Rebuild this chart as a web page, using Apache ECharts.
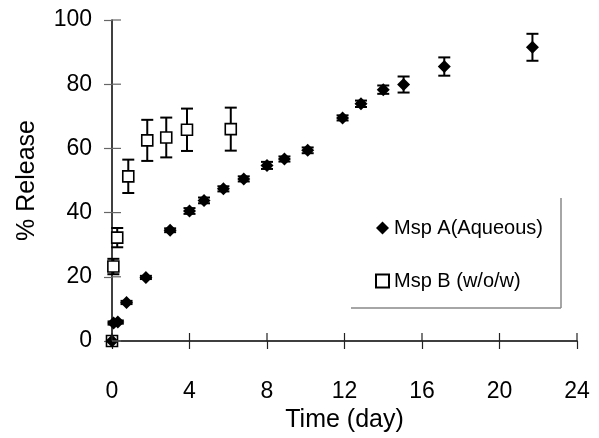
<!DOCTYPE html>
<html>
<head>
<meta charset="utf-8">
<script src="https://cdn.jsdelivr.net/npm/echarts@6/dist/echarts.min.js"></script>
<style>html,body{margin:0;padding:0;background:#fff;}#c{width:599px;height:438px;}</style>
</head>
<body>
<div id="c"></div>
<script>
// ---- data ----
const xTicks = [0, 4, 8, 12, 16, 20, 24];
const yTicks = [0, 20, 40, 60, 80, 100];
const seriesNames = ['Msp A(Aqueous)', 'Msp B (w/o/w)'];
const timeA = [0, 0.08, 0.3, 0.75, 1.75, 3, 4, 4.75, 5.75, 6.8, 8, 8.9, 10.1, 11.9, 12.85, 14, 15.05, 17.15, 21.7];
const releaseA = [0, 5.6, 5.9, 12, 19.8, 34.5, 40.5, 43.8, 47.4, 50.5, 54.7, 56.7, 59.4, 69.5, 73.9, 78.3, 79.9, 85.5, 91.5];
const errA = [0, 0.5, 0.5, 0.5, 0.5, 0.6, 0.9, 0.9, 0.8, 0.8, 1.1, 0.8, 0.9, 0.8, 1.0, 1.3, 2.5, 2.85, 4.2];
const timeB = [0, 0.07, 0.27, 0.84, 1.82, 2.8, 3.87, 6.13];
const releaseB = [0, 23.2, 32.2, 51.3, 62.5, 63.4, 65.8, 66];
const errB = [0, 2.4, 3, 5.2, 6.4, 6.2, 6.6, 6.7];

const FONT = 'Liberation Sans, Arial, sans-serif';
const toPts = (t, v, e) => t.map((x, i) => [x, v[i], e ? e[i] : 0]);

function errBar(params, api) {
  const x = api.value(0), y = api.value(1), e = api.value(2);
  if (!e) return { type: 'group', children: [] };
  const top = api.coord([x, y + e]);
  const bot = api.coord([x, y - e]);
  const hw = 6;
  const st = { stroke: '#000', lineWidth: 2 };
  return {
    type: 'group',
    children: [
      { type: 'line', shape: { x1: top[0], y1: top[1], x2: bot[0], y2: bot[1] }, style: st },
      { type: 'line', shape: { x1: top[0] - hw, y1: top[1], x2: top[0] + hw, y2: top[1] }, style: st },
      { type: 'line', shape: { x1: bot[0] - hw, y1: bot[1], x2: bot[0] + hw, y2: bot[1] }, style: st }
    ]
  };
}

const chart = echarts.init(document.getElementById('c'), null, { renderer: 'canvas' });
chart.setOption({
  animation: false,
  backgroundColor: '#fff',
  grid: { left: 112, right: 22, top: 20, bottom: 96, containLabel: false },
  xAxis: {
    type: 'value', min: xTicks[0], max: xTicks[xTicks.length - 1], interval: 4,
    splitLine: { show: false },
    name: 'Time (day)', nameLocation: 'middle', nameGap: 67,
    nameTextStyle: { fontFamily: FONT, fontSize: 25, color: '#000' },
    axisLine: { show: true, onZero: false, lineStyle: { color: '#000', width: 1.5 } },
    axisTick: { show: true, length: 8, lineStyle: { color: '#222', width: 1.2 } },
    axisLabel: { fontFamily: FONT, fontSize: 23, color: '#000', margin: 39 }
  },
  yAxis: {
    type: 'value', min: yTicks[0], max: yTicks[yTicks.length - 1], interval: 20,
    splitLine: { show: false },
    name: '% Release', nameLocation: 'middle', nameGap: 72, nameRotate: 90,
    nameTextStyle: { fontFamily: FONT, fontSize: 25, color: '#000' },
    axisLine: { show: true, onZero: false, lineStyle: { color: '#000', width: 1.5 } },
    axisTick: { show: true, length: 8, lineStyle: { color: '#666', width: 1.2 } },
    axisLabel: { fontFamily: FONT, fontSize: 23, color: '#000', margin: 20 }
  },
  legend: {
    orient: 'vertical', left: 370, top: 213,
    itemWidth: 13, itemHeight: 13, itemGap: 33,
    textStyle: { fontFamily: FONT, fontSize: 20, color: '#000' },
    data: [
      { name: seriesNames[0], icon: 'diamond' },
      { name: seriesNames[1], icon: 'rect' }
    ]
  },
  series: [
    { type: 'custom', name: 'errA', renderItem: errBar, data: toPts(timeA, releaseA, errA), z: 2, clip: false, silent: true, encode: { x: 0, y: 1 } },
    { type: 'custom', name: 'errB', renderItem: errBar, data: toPts(timeB, releaseB, errB), z: 2, clip: false, silent: true, encode: { x: 0, y: 1 } },
    {
      type: 'scatter', name: seriesNames[1], data: toPts(timeB, releaseB), symbol: 'rect', symbolSize: 11, z: 3,
      itemStyle: { color: '#fff', borderColor: '#000', borderWidth: 1.6, opacity: 1 }
    },
    {
      type: 'scatter', name: seriesNames[0], data: toPts(timeA, releaseA), symbol: 'diamond', symbolSize: 13, z: 4,
      itemStyle: { color: '#000', borderColor: '#000', borderWidth: 0, opacity: 1 }
    }
  ]
});

// inner half of the crossing ticks + legend frame, placed through the chart's own scales
const graphics = [];
xTicks.forEach(v => {
  const p = chart.convertToPixel({ gridIndex: 0 }, [v, yTicks[0]]);
  graphics.push({ type: 'line', z: 10, shape: { x1: p[0], y1: p[1], x2: p[0], y2: p[1] - 8 }, style: { stroke: '#222', lineWidth: 1.2 } });
});
yTicks.forEach(v => {
  const p = chart.convertToPixel({ gridIndex: 0 }, [xTicks[0], v]);
  graphics.push({ type: 'line', z: 10, shape: { x1: p[0], y1: p[1], x2: p[0] + 9, y2: p[1] }, style: { stroke: '#666', lineWidth: 1.2 } });
});
graphics.push({ type: 'line', shape: { x1: 561, y1: 198, x2: 561, y2: 308 }, style: { stroke: '#888', lineWidth: 1.5 } });
graphics.push({ type: 'line', shape: { x1: 351, y1: 308, x2: 561, y2: 308 }, style: { stroke: '#888', lineWidth: 1.5 } });
chart.setOption({ graphic: graphics });
</script>
</body>
</html>
